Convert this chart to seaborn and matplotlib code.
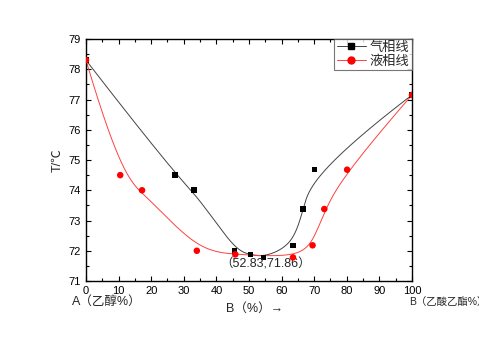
import numpy as np
import pandas as pd
import matplotlib
matplotlib.use("Agg")
import matplotlib.pyplot as plt
from matplotlib.lines import Line2D
from matplotlib.ticker import MultipleLocator
import seaborn as sns

# ---- data ----
gas_x = [0, 27.3, 33.2, 45.6, 50.5, 54.5, 63.5, 66.6, 70.1, 100]
gas_y = [78.3, 74.5, 74.0, 72.0, 71.88, 71.78, 72.18, 73.38, 74.68, 77.15]
liq_x = [0, 10.5, 17.2, 34.0, 45.8, 63.5, 69.5, 73.1, 80.1, 100]
liq_y = [78.3, 74.5, 74.0, 72.0, 71.88, 71.78, 72.18, 73.38, 74.68, 77.15]
labels = ["气相线", "液相线"]
annot_text = "（52.83,71.86）"
x_ticks = [0, 10, 20, 30, 40, 50, 60, 70, 80, 90, 100]
y_ticks = [71, 72, 73, 74, 75, 76, 77, 78, 79]


def bspline(px, py, num=800, k=3):
    """Clamped cubic B-spline using the data points as control points."""
    P = np.column_stack([px, py]).astype(float)
    n = len(P)
    inner = np.arange(1, n - k)
    knots = np.concatenate([np.zeros(k + 1), inner, np.full(k + 1, n - k)]).astype(float)
    ts = np.linspace(0, n - k, num)
    ts[-1] -= 1e-9
    def basis(i, d, t):
        if d == 0:
            return ((knots[i] <= t) & (t < knots[i + 1])).astype(float)
        a = 0.0
        den1 = knots[i + d] - knots[i]
        if den1 > 0:
            a = (t - knots[i]) / den1 * basis(i, d - 1, t)
        b = 0.0
        den2 = knots[i + d + 1] - knots[i + 1]
        if den2 > 0:
            b = (knots[i + d + 1] - t) / den2 * basis(i + 1, d - 1, t)
        return a + b
    B = np.array([basis(i, k, ts) for i in range(n)])
    C = B.T @ P
    return C[:, 0], C[:, 1]


gx, gy = bspline(gas_x, gas_y)
lx, ly = bspline(liq_x, liq_y)
gas_curve = pd.DataFrame({"x": gx, "y": gy})
liq_curve = pd.DataFrame({"x": lx, "y": ly})
gas_pts = pd.DataFrame({"x": gas_x, "y": gas_y})
liq_pts = pd.DataFrame({"x": liq_x, "y": liq_y})

sns.set_style("ticks")
fam = ["Liberation Sans", "Noto Sans CJK SC", "DejaVu Sans"]
plt.rcParams["font.family"] = fam

fig = plt.figure(figsize=(4.79, 3.38), dpi=100)
ax = fig.add_axes([0.1795, 0.1686, 0.6806, 0.716])

sns.lineplot(data=gas_curve, x="x", y="y", ax=ax, color="#444444", lw=0.7,
             sort=False, estimator=None)
sns.lineplot(data=liq_curve, x="x", y="y", ax=ax, color="#ff4040", lw=0.7,
             sort=False, estimator=None)
sns.scatterplot(data=gas_pts, x="x", y="y", ax=ax, marker="s", color="black",
                s=16, edgecolor="none", zorder=3)
sns.scatterplot(data=liq_pts, x="x", y="y", ax=ax, marker="o", color="red",
                s=22, edgecolor="none", zorder=4)

ax.set_xlim(0, 100)
ax.set_ylim(71, 79)
ax.set_xticks(x_ticks)
ax.set_yticks(y_ticks)
ax.xaxis.set_minor_locator(MultipleLocator(5))
ax.yaxis.set_minor_locator(MultipleLocator(0.5))
ax.tick_params(which="both", direction="in", top=True, right=True,
               labelsize=8, colors="black", width=0.8)
ax.tick_params(which="major", length=3.5)
ax.tick_params(which="minor", length=2)
for s in ax.spines.values():
    s.set_linewidth(1.0)
    s.set_color("black")

ax.set_xlabel("")
ax.set_ylabel("T/℃", fontsize=9, labelpad=4)

fig.text(72 / 479, 1 - 302 / 338, "A（乙醇%）", fontsize=9, va="center", ha="left")
fig.text(226 / 479, 1 - 309 / 338, "B（%）→", fontsize=9, va="center", ha="left")
fig.text(409 / 479, 1 - 302 / 338, "B（乙酸乙酯%）", fontsize=7.5, va="center", ha="left")
ax.text(55.2, 71.56, annot_text, fontsize=9, ha="center", va="center")

handles = [
    Line2D([], [], color="#444444", lw=0.7, marker="s", markersize=4,
           markerfacecolor="black", markeredgecolor="black"),
    Line2D([], [], color="#ff4040", lw=0.7, marker="o", markersize=5,
           markerfacecolor="red", markeredgecolor="red"),
]
leg = ax.legend(handles, labels, loc="upper right", fontsize=9.5, frameon=True,
                fancybox=False, borderaxespad=0, handlelength=2.2,
                handletextpad=0.3, borderpad=0.2, labelspacing=0.1)
leg.get_frame().set_edgecolor("#555555")
leg.get_frame().set_linewidth(0.8)

fig.savefig("out.png", dpi=100)
